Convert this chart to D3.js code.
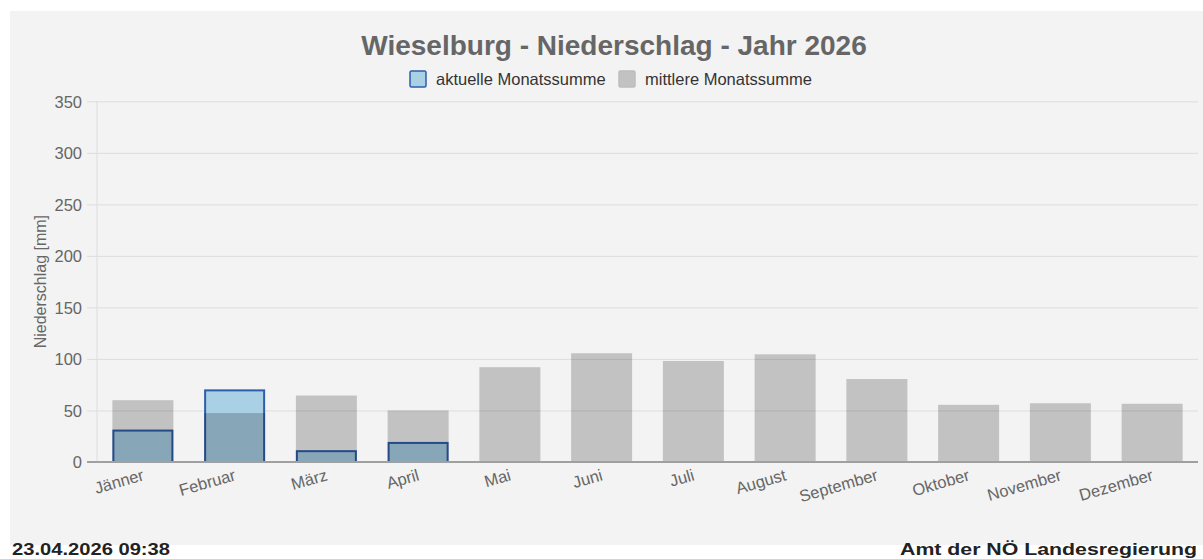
<!DOCTYPE html>
<html>
<head>
<meta charset="utf-8">
<script src="https://cdn.jsdelivr.net/npm/d3@7"></script>
<style>
  html, body { margin: 0; padding: 0; background: #ffffff; }
  svg { display: block; font-family: "Liberation Sans", Arial, sans-serif; }
</style>
</head>
<body>
<svg id="chart" width="1203" height="559"></svg>
<script>
const months = ["Jänner","Februar","März","April","Mai","Juni","Juli","August","September","Oktober","November","Dezember"];
const currentSums = [30.5, 69.5, 10.5, 18.5];
const meanSums = [60, 47.5, 64.5, 50, 92, 105.5, 98, 104.5, 80.5, 55.5, 57, 56.5];
const yTicks = [0, 50, 100, 150, 200, 250, 300, 350];
const titleText = "Wieselburg - Niederschlag - Jahr 2026";
const legendLabels = ["aktuelle Monatssumme", "mittlere Monatssumme"];
const yAxisTitle = "Niederschlag [mm]";
const footerLeft = "23.04.2026 09:38";
const footerRight = "Amt der NÖ Landesregierung";

const svg = d3.select("#chart");
const W = 1203, H = 559;
const plot = { left: 97, right: 1198, top: 101.3, bottom: 462 };

// panel background
svg.append("rect").attr("x", 10).attr("y", 11).attr("width", W - 10).attr("height", 534).attr("fill", "#f3f3f3");

const x = d3.scaleBand().domain(months).range([plot.left, plot.right]).paddingInner(0.335).paddingOuter(0.1675);
const y = d3.scaleLinear().domain([0, 350]).range([plot.bottom, plot.top]);

// grid lines + y labels
const yAxis = d3.axisLeft(y).tickValues(yTicks).tickSize(plot.right - plot.left + 10).tickPadding(5).tickFormat(d3.format("d"));
const gy = svg.append("g").attr("transform", `translate(${plot.right},0)`).call(yAxis);
gy.select(".domain").remove();
gy.selectAll(".tick line").attr("stroke", "#dddddd").attr("stroke-width", 1);
gy.selectAll(".tick text").attr("fill", "#666666").attr("font-size", 16.5).attr("x", -(plot.right - 82)).attr("text-anchor", "end").attr("dy", "0.35em");

// y axis line (light)
svg.append("line").attr("x1", plot.left).attr("x2", plot.left).attr("y1", plot.top).attr("y2", plot.bottom).attr("stroke", "#dddddd");

// y axis title
svg.append("text").attr("transform", `translate(46,${(plot.top + plot.bottom) / 2}) rotate(-90)`)
  .attr("text-anchor", "middle").attr("fill", "#666666").attr("font-size", 16).text(yAxisTitle);

// current bars (blue)
svg.append("g").selectAll("rect").data(currentSums).join("rect")
  .attr("x", (d, i) => x(months[i]) + 1)
  .attr("y", d => y(d))
  .attr("width", x.bandwidth() - 2)
  .attr("height", d => y(0) - y(d))
  .attr("fill", "#a9d0e5")
  .attr("stroke", "#2e5ea9")
  .attr("stroke-width", 2);

// mean bars (gray, semi-transparent on top)
svg.append("g").selectAll("rect").data(meanSums).join("rect")
  .attr("x", (d, i) => x(months[i]))
  .attr("y", d => y(d))
  .attr("width", x.bandwidth())
  .attr("height", d => y(0) - y(d))
  .attr("fill", "rgba(0,0,0,0.2)");

// x axis
const xAxis = d3.axisBottom(x).tickSize(0).tickPadding(0);
const gx = svg.append("g").attr("transform", `translate(0,${plot.bottom})`).call(xAxis);
gx.select(".domain").remove();
svg.append("line").attr("x1", plot.left - 10).attr("x2", plot.right).attr("y1", plot.bottom).attr("y2", plot.bottom)
  .attr("stroke", "#a0a0a0").attr("stroke-width", 2);
gx.selectAll(".tick text")
  .attr("fill", "#666666").attr("font-size", 16.5)
  .attr("text-anchor", "end")
  .attr("x", 0).attr("y", 0).attr("dy", 0)
  .attr("transform", "translate(2,18) rotate(-16)");

// title
svg.append("text").attr("x", 614).attr("y", 55).attr("text-anchor", "middle")
  .attr("font-size", 28).attr("font-weight", "bold").attr("fill", "#666666").text(titleText);

// legend
const legend = svg.append("g");
const legendItems = [
  { x: 409, fill: "#a9d0e5", stroke: "#2e5ea9", label: legendLabels[0], tx: 436 },
  { x: 618, fill: "#c2c2c2", stroke: "#bdbdbd", label: legendLabels[1], tx: 645 }
];
legendItems.forEach(it => {
  legend.append("rect").attr("x", it.x + 1).attr("y", 71).attr("width", 16).attr("height", 16).attr("rx", 1.5)
    .attr("fill", it.fill).attr("stroke", it.stroke).attr("stroke-width", 1.5);
  legend.append("text").attr("x", it.tx).attr("y", 85).attr("font-size", 16.5).attr("fill", "#333333").text(it.label);
});

// footer
svg.append("text").attr("x", 12).attr("y", 555).attr("font-size", 17).attr("font-weight", "bold").attr("fill", "#222222")
  .attr("textLength", 158).attr("lengthAdjust", "spacingAndGlyphs").text(footerLeft);
svg.append("text").attr("x", 900).attr("y", 555).attr("font-size", 17).attr("font-weight", "bold").attr("fill", "#222222")
  .attr("textLength", 297).attr("lengthAdjust", "spacingAndGlyphs").text(footerRight);
</script>
</body>
</html>
